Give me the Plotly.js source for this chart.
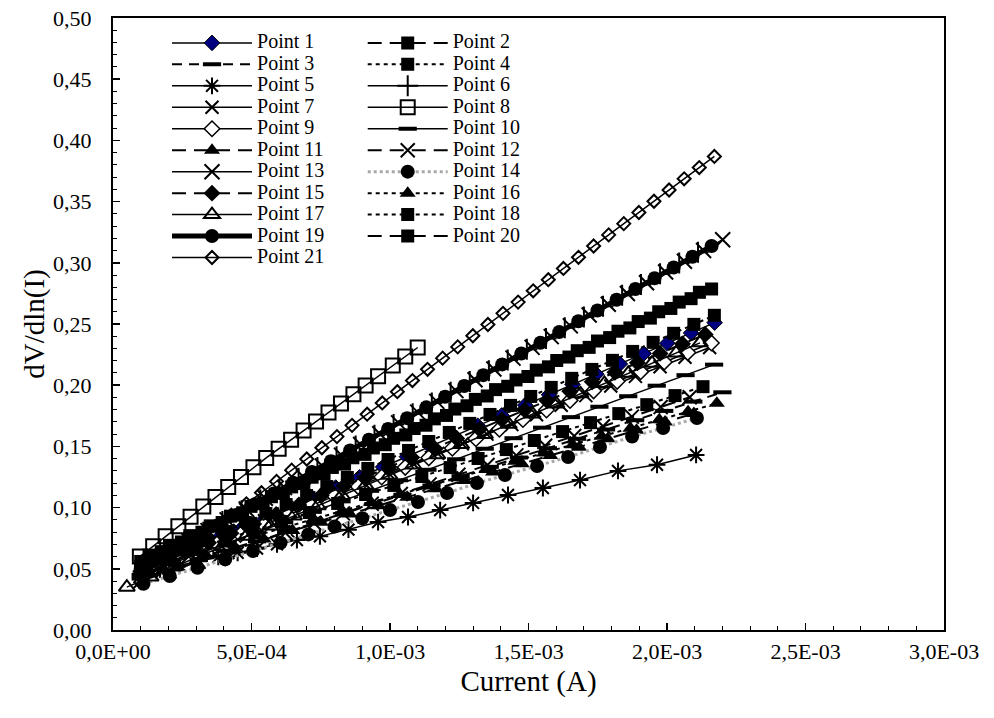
<!DOCTYPE html>
<html>
<head>
<meta charset="utf-8">
<script src="https://cdn.plot.ly/plotly-3.0.1.min.js"></script>
<style>html,body{margin:0;padding:0;background:#fff;}#chart{width:994px;height:718px;}</style>
</head>
<body>
<div id="chart"></div>
<script>
// ---- data (current in mA, converted to A when plotted) ----
const seriesNames = ['Point 1','Point 2','Point 3','Point 4','Point 5','Point 6','Point 7','Point 8','Point 9','Point 10','Point 11','Point 12','Point 13','Point 14','Point 15','Point 16','Point 17','Point 18','Point 19','Point 20','Point 21'];

const p1x = [0.120,0.206,0.291,0.377,0.462,0.548,0.633,0.719,0.804,0.890,0.975,1.061,1.146,1.232,1.317,1.403,1.488,1.574,1.659,1.745,1.830,1.916,2.001,2.087,2.172];
const p1y = [0.0490,0.0574,0.0658,0.0743,0.0827,0.0911,0.0995,0.1079,0.1164,0.1248,0.1332,0.1416,0.1500,0.1585,0.1669,0.1753,0.1837,0.1922,0.2006,0.2090,0.2174,0.2259,0.2343,0.2427,0.2511];

const p2x = [0.100,0.174,0.247,0.321,0.394,0.468,0.542,0.615,0.689,0.762,0.836,0.910,0.983,1.057,1.130,1.204,1.278,1.351,1.425,1.498,1.572,1.646,1.719,1.793,1.866,1.940,2.014,2.087,2.161];
const p2y = [0.0560,0.0640,0.0719,0.0799,0.0878,0.0958,0.1037,0.1117,0.1196,0.1276,0.1355,0.1435,0.1514,0.1594,0.1673,0.1753,0.1832,0.1912,0.1991,0.2071,0.2150,0.2230,0.2309,0.2389,0.2468,0.2548,0.2627,0.2707,0.2786];

const p3x = [0.100,0.205,0.310,0.415,0.520,0.625,0.730,0.835,0.940,1.045,1.150,1.255,1.360,1.465,1.570,1.675,1.780,1.885,1.990,2.095,2.200];
const p3y = [0.0420,0.0496,0.0572,0.0648,0.0724,0.0801,0.0877,0.0953,0.1029,0.1105,0.1181,0.1257,0.1333,0.1409,0.1485,0.1562,0.1638,0.1714,0.1790,0.1866,0.1942];

const p4x = [0.110,0.184,0.257,0.331,0.404,0.478,0.552,0.625,0.699,0.772,0.846,0.920,0.993,1.067,1.140,1.214,1.288,1.361,1.435,1.508,1.582,1.656,1.729,1.803,1.876,1.950,2.024,2.097,2.171];
const p4y = [0.0510,0.0584,0.0657,0.0731,0.0804,0.0878,0.0952,0.1025,0.1099,0.1172,0.1246,0.1320,0.1393,0.1467,0.1540,0.1614,0.1688,0.1761,0.1835,0.1908,0.1982,0.2056,0.2129,0.2203,0.2276,0.2350,0.2424,0.2497,0.2571];

const p5x = [0.100,0.170,0.240,0.310,0.380,0.450,0.520,0.592,0.664,0.747,0.850,0.957,1.065,1.181,1.300,1.426,1.552,1.686,1.823,1.964,2.105];
const p5y = [0.0460,0.0494,0.0528,0.0562,0.0597,0.0631,0.0665,0.0700,0.0735,0.0765,0.0820,0.0882,0.0923,0.0980,0.1038,0.1103,0.1160,0.1225,0.1300,0.1350,0.1430];

const p6x = [0.120,0.189,0.257,0.326,0.395,0.464,0.532,0.601,0.670,0.738,0.807,0.876,0.944,1.013,1.082,1.151,1.219,1.288,1.357,1.425,1.494,1.563,1.631,1.700,1.769,1.838,1.906,1.975,2.044,2.112];
const p6y = [0.0536,0.0624,0.0712,0.0799,0.0887,0.0975,0.1063,0.1151,0.1239,0.1327,0.1415,0.1503,0.1591,0.1679,0.1767,0.1855,0.1943,0.2031,0.2119,0.2206,0.2294,0.2382,0.2470,0.2558,0.2646,0.2734,0.2822,0.2910,0.2998,0.3086];

const p7x = [0.100,0.189,0.279,0.368,0.457,0.547,0.636,0.725,0.814,0.904,0.993,1.082,1.172,1.261,1.350,1.440,1.529,1.618,1.707,1.797,1.886,1.975,2.065,2.154];
const p7y = [0.0500,0.0579,0.0657,0.0736,0.0814,0.0893,0.0972,0.1050,0.1129,0.1207,0.1286,0.1365,0.1443,0.1522,0.1600,0.1679,0.1758,0.1836,0.1915,0.1993,0.2072,0.2151,0.2229,0.2308];

const p8x = [0.097,0.145,0.190,0.236,0.280,0.326,0.370,0.416,0.462,0.507,0.553,0.598,0.643,0.688,0.733,0.778,0.823,0.868,0.912,0.957,1.010,1.055,1.100];
const p8y = [0.0600,0.0685,0.0766,0.0847,0.0926,0.1008,0.1086,0.1168,0.1250,0.1330,0.1406,0.1480,0.1554,0.1630,0.1703,0.1777,0.1851,0.1926,0.1998,0.2073,0.2160,0.2234,0.2308];

const p9x = [0.120,0.205,0.290,0.375,0.460,0.545,0.630,0.715,0.800,0.885,0.970,1.055,1.140,1.225,1.310,1.395,1.480,1.565,1.650,1.735,1.820,1.905,1.990,2.075,2.160];
const p9y = [0.0468,0.0547,0.0625,0.0703,0.0781,0.0859,0.0938,0.1016,0.1094,0.1172,0.1250,0.1329,0.1407,0.1485,0.1563,0.1641,0.1720,0.1798,0.1876,0.1954,0.2032,0.2111,0.2189,0.2267,0.2345];

const p10x = [0.100,0.204,0.307,0.411,0.514,0.618,0.721,0.825,0.928,1.032,1.135,1.239,1.342,1.446,1.549,1.653,1.756,1.860,1.963,2.067,2.170];
const p10y = [0.0450,0.0536,0.0622,0.0708,0.0794,0.0880,0.0965,0.1051,0.1137,0.1223,0.1309,0.1395,0.1481,0.1567,0.1653,0.1739,0.1824,0.1910,0.1996,0.2082,0.2168];

const p11x = [0.130,0.234,0.337,0.441,0.544,0.648,0.751,0.855,0.958,1.062,1.165,1.269,1.372,1.476,1.579,1.683,1.786,1.890,1.993,2.097];
const p11y = [0.0470,0.0538,0.0607,0.0675,0.0743,0.0812,0.0880,0.0948,0.1016,0.1085,0.1153,0.1221,0.1290,0.1358,0.1426,0.1494,0.1563,0.1631,0.1699,0.1768];

const p12x = [0.100,0.204,0.309,0.413,0.517,0.622,0.726,0.830,0.934,1.039,1.143,1.247,1.352,1.456,1.560,1.665,1.769,1.873,1.977,2.082];
const p12y = [0.0400,0.0479,0.0558,0.0637,0.0716,0.0795,0.0874,0.0953,0.1032,0.1111,0.1190,0.1269,0.1348,0.1427,0.1506,0.1585,0.1664,0.1743,0.1822,0.1901];

const p13x = [0.137,0.206,0.275,0.343,0.412,0.481,0.550,0.619,0.687,0.756,0.825,0.894,0.963,1.031,1.100,1.169,1.238,1.307,1.375,1.444,1.513,1.582,1.651,1.719,1.788,1.857,1.926,1.995,2.063,2.132,2.201];
const p13y = [0.0547,0.0635,0.0723,0.0812,0.0900,0.0988,0.1076,0.1164,0.1252,0.1340,0.1428,0.1516,0.1604,0.1692,0.1780,0.1868,0.1956,0.2044,0.2132,0.2221,0.2309,0.2397,0.2485,0.2573,0.2661,0.2749,0.2837,0.2925,0.3013,0.3101,0.3189];

const p14x = [0.110,0.205,0.305,0.405,0.505,0.605,0.705,0.800,0.900,1.000,1.101,1.206,1.314,1.415,1.531,1.643,1.758,1.874,1.986,2.108];
const p14y = [0.0377,0.0441,0.0509,0.0577,0.0645,0.0713,0.0781,0.0845,0.0913,0.0980,0.1046,0.1119,0.1200,0.1266,0.1340,0.1413,0.1495,0.1580,0.1650,0.1732];

const p15x = [0.100,0.182,0.263,0.345,0.426,0.508,0.589,0.671,0.752,0.834,0.915,0.997,1.078,1.160,1.241,1.323,1.404,1.486,1.567,1.649,1.730,1.812,1.893,1.975,2.056,2.138];
const p15y = [0.0480,0.0557,0.0635,0.0712,0.0790,0.0867,0.0944,0.1022,0.1099,0.1177,0.1254,0.1331,0.1409,0.1486,0.1564,0.1641,0.1718,0.1796,0.1873,0.1951,0.2028,0.2105,0.2183,0.2260,0.2338,0.2415];

const p16x = [0.100,0.204,0.308,0.412,0.516,0.620,0.724,0.828,0.932,1.036,1.140,1.244,1.348,1.452,1.556,1.660,1.764,1.868,1.972,2.076,2.180];
const p16y = [0.0500,0.0568,0.0635,0.0703,0.0770,0.0838,0.0906,0.0973,0.1041,0.1108,0.1176,0.1244,0.1311,0.1379,0.1446,0.1514,0.1582,0.1649,0.1717,0.1784,0.1852];

const p17x = [0.050,0.136,0.222,0.309,0.395,0.481,0.567,0.653,0.740,0.826,0.912,0.998,1.084,1.171,1.257,1.343,1.429,1.515,1.601,1.688,1.774,1.860,1.946,2.033,2.119];
const p17y = [0.0350,0.0433,0.0516,0.0600,0.0683,0.0766,0.0849,0.0932,0.1015,0.1099,0.1182,0.1265,0.1348,0.1431,0.1515,0.1598,0.1681,0.1764,0.1847,0.1930,0.2014,0.2097,0.2180,0.2263,0.2346];

const p18x = [0.100,0.202,0.303,0.405,0.506,0.608,0.709,0.811,0.912,1.014,1.115,1.217,1.318,1.420,1.521,1.623,1.724,1.826,1.927,2.029,2.130];
const p18y = [0.0520,0.0593,0.0667,0.0740,0.0814,0.0887,0.0960,0.1034,0.1107,0.1181,0.1254,0.1327,0.1401,0.1474,0.1548,0.1621,0.1694,0.1768,0.1841,0.1915,0.1988];

const p19x = [0.100,0.169,0.237,0.306,0.375,0.444,0.512,0.581,0.650,0.718,0.787,0.856,0.924,0.993,1.062,1.131,1.199,1.268,1.337,1.405,1.474,1.543,1.611,1.680,1.749,1.818,1.886,1.955,2.024,2.092,2.161];
const p19y = [0.0500,0.0588,0.0676,0.0764,0.0852,0.0940,0.1027,0.1115,0.1203,0.1291,0.1379,0.1467,0.1555,0.1643,0.1731,0.1819,0.1906,0.1994,0.2082,0.2170,0.2258,0.2346,0.2434,0.2522,0.2610,0.2698,0.2785,0.2873,0.2961,0.3049,0.3137];

const p20x = [0.130,0.204,0.277,0.351,0.424,0.498,0.572,0.645,0.719,0.792,0.866,0.940,1.013,1.087,1.160,1.234,1.308,1.381,1.455,1.528,1.602,1.676,1.749,1.823,1.896,1.970,2.044,2.117];
const p20y = [0.0612,0.0692,0.0771,0.0851,0.0930,0.1010,0.1089,0.1169,0.1248,0.1328,0.1407,0.1487,0.1566,0.1646,0.1725,0.1805,0.1884,0.1964,0.2043,0.2123,0.2202,0.2282,0.2361,0.2441,0.2520,0.2600,0.2679,0.2759];

const p21x = [0.100,0.1545,0.209,0.2635,0.318,0.3725,0.427,0.4815,0.536,0.5905,0.645,0.6995,0.754,0.8085,0.863,0.9175,0.972,1.0265,1.081,1.1355,1.190,1.2445,1.299,1.3535,1.408,1.4625,1.517,1.5715,1.626,1.6805,1.735,1.7895,1.844,1.8985,1.953,2.0075,2.062,2.1165,2.171];
const p21y = [0.0390,0.0482,0.0573,0.0665,0.0756,0.0848,0.0939,0.1031,0.1122,0.1214,0.1306,0.1397,0.1489,0.1580,0.1672,0.1763,0.1855,0.1947,0.2038,0.2130,0.2221,0.2313,0.2404,0.2496,0.2587,0.2679,0.2771,0.2862,0.2954,0.3045,0.3137,0.3228,0.3320,0.3411,0.3503,0.3595,0.3686,0.3778,0.3869];

const xTickVals = [0, 0.0005, 0.001, 0.0015, 0.002, 0.0025, 0.003];
const xTickText = ['0,0E+00','5,0E-04','1,0E-03','1,5E-03','2,0E-03','2,5E-03','3,0E-03'];

const xs = [p1x,p2x,p3x,p4x,p5x,p6x,p7x,p8x,p9x,p10x,p11x,p12x,p13x,p14x,p15x,p16x,p17x,p18x,p19x,p20x,p21x];
const ys = [p1y,p2y,p3y,p4y,p5y,p6y,p7y,p8y,p9y,p10y,p11y,p12y,p13y,p14y,p15y,p16y,p17y,p18y,p19y,p20y,p21y];

// ---- styles ----
const K = '#000';
const LONG = '14px,8px', MED = '10px,7px', SHORT = '4px,4px';
const styles = [
  {dash:'solid', w:1.5, sym:'diamond', size:12, fill:'#000080', lw:1},
  {dash:LONG, w:2, sym:'square', size:13, fill:K, lw:0},
  {dash:MED, w:2, sym:'line-ew-open', size:13, fill:K, lw:4},
  {dash:SHORT, w:2, sym:'square', size:13, fill:K, lw:0},
  {dash:'solid', w:1.5, sym:'asterisk-open', size:14, fill:K, lw:2},
  {dash:'solid', w:1.5, sym:'cross-thin-open', size:15, fill:K, lw:2},
  {dash:'solid', w:1.5, sym:'x-thin-open', size:13, fill:K, lw:2},
  {dash:'solid', w:1.5, sym:'square-open', size:14, fill:K, lw:2},
  {dash:'solid', w:1.5, sym:'diamond', size:12, fill:'#fff', lw:1.5},
  {dash:'solid', w:1.5, sym:'line-ew-open', size:13, fill:K, lw:4},
  {dash:LONG, w:2, sym:'triangle-up', size:14, fill:K, lw:0},
  {dash:LONG, w:2, sym:'x-thin-open', size:14, fill:K, lw:2},
  {dash:'solid', w:1.5, sym:'x-thin-open', size:15, fill:K, lw:2},
  {dash:'dot', w:3, sym:'circle', size:14, fill:K, lw:0, color:'#a8a8a8'},
  {dash:LONG, w:2, sym:'diamond', size:13, fill:K, lw:0},
  {dash:SHORT, w:2, sym:'triangle-up', size:14, fill:K, lw:0},
  {dash:'solid', w:1.5, sym:'triangle-up-open', size:14, fill:K, lw:2},
  {dash:SHORT, w:2, sym:'square', size:13, fill:K, lw:0},
  {dash:'solid', w:5, sym:'circle', size:14, fill:K, lw:0},
  {dash:LONG, w:2, sym:'square', size:13, fill:K, lw:0},
  {dash:'solid', w:1.5, sym:'diamond-open', size:10, fill:K, lw:2}
];

const traces = seriesNames.map((nm, i) => {
  const s = styles[i];
  return {
    type: 'scatter', mode: 'lines+markers',
    name: '<span style="font-size:20px">' + nm + '</span>',
    x: xs[i].map(v => v / 1000),
    y: ys[i],
    legend: (i % 2 === 0) ? 'legend' : 'legend2',
    line: {color: s.color || K, width: s.w, dash: s.dash},
    marker: {symbol: s.sym, size: s.size, color: s.fill, line: {color: K, width: s.lw}},
    hoverinfo: 'skip'
  };
});

const FONT = 'Liberation Serif';
const legendBase = {
  yanchor: 'top', xanchor: 'left', y: 0.985,
  bgcolor: 'rgba(0,0,0,0)', borderwidth: 0,
  font: {family: FONT, size: 14.2, color: K},
  itemwidth: 80, tracegroupgap: 0, traceorder: 'normal', orientation: 'v'
};

const layout = {
  width: 994, height: 718,
  margin: {l: 113, r: 50, t: 18, b: 88, pad: 0},
  paper_bgcolor: '#fff', plot_bgcolor: '#fff',
  separators: ', ',
  font: {family: FONT, color: K},
  showlegend: true,
  hovermode: false,
  legend: Object.assign({}, legendBase, {x: 0.065}),
  legend2: Object.assign({}, legendBase, {x: 0.3005}),
  xaxis: {
    range: [0, 0.003], tickvals: xTickVals, ticktext: xTickText,
    showgrid: false, zeroline: false,
    showline: true, linecolor: K, linewidth: 2, mirror: true,
    ticks: 'inside', ticklen: 7, tickwidth: 1.5, tickcolor: K,
    ticklabelstandoff: 1,
    minor: {dtick: 0.0001, ticks: 'inside', ticklen: 4, tickwidth: 1, tickcolor: K, showgrid: false},
    tickfont: {family: FONT, size: 22, color: K},
    title: {text: 'Current (A)', font: {family: FONT, size: 29, color: K}, standoff: 7}
  },
  yaxis: {
    range: [0, 0.5], dtick: 0.05, tick0: 0, tickformat: '.2f',
    showgrid: false, zeroline: false,
    showline: true, linecolor: K, linewidth: 2, mirror: true,
    ticks: 'inside', ticklen: 7, tickwidth: 1.5, tickcolor: K,
    ticklabelstandoff: 15,
    minor: {dtick: 0.01, ticks: 'inside', ticklen: 4, tickwidth: 1, tickcolor: K, showgrid: false},
    tickfont: {family: FONT, size: 22, color: K},
    title: {text: 'dV/dln(I)', font: {family: FONT, size: 29, color: K}, standoff: 0}
  }
};

Plotly.newPlot('chart', traces, layout, {staticPlot: true, displayModeBar: false});
</script>
</body>
</html>
